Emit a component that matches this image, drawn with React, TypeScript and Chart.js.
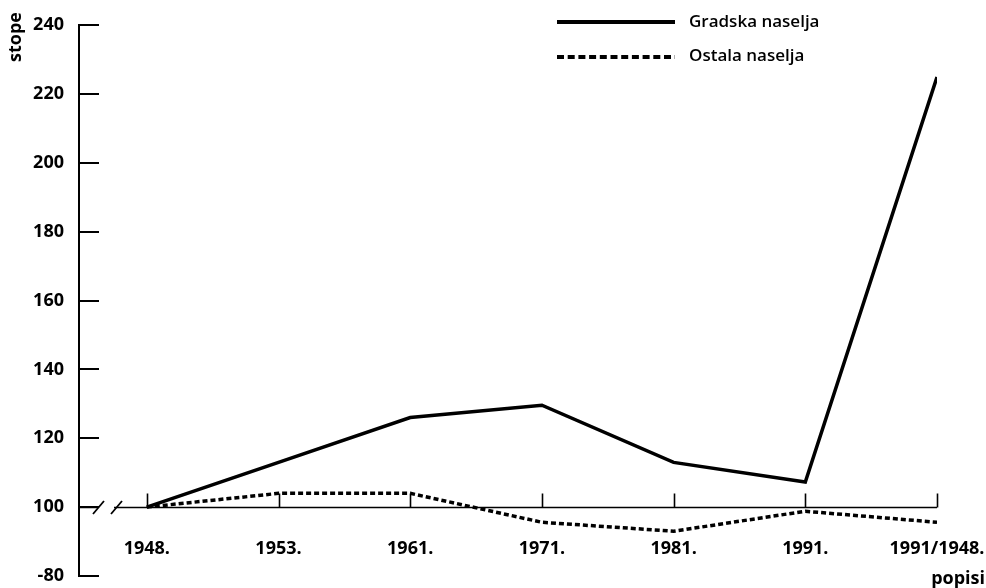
import React, { useEffect, useRef } from "react";
import { Chart, registerables } from "chart.js";

Chart.register(...registerables);

const categories = ["1948.", "1953.", "1961.", "1971.", "1981.", "1991.", "1991/1948."];
const gradskaNaselja = [100, 113, 126, 129.6, 113, 107.3, 224.9];
const ostalaNaselja = [100, 104, 104, 95.6, 93, 98.8, 95.6];
const yTicks = [80, 100, 120, 140, 160, 180, 200, 220, 240];
const yTickLabels = ["-80", "100", "120", "140", "160", "180", "200", "220", "240"];
const seriesNames = ["Gradska naselja", "Ostala naselja"];
const yTitle = "stope";
const xTitle = "popisi";

const FONT = "'Open Sans', 'DejaVu Sans', sans-serif";

const decorPlugin = {
  id: "decor",
  beforeDatasetsDraw(chart: any) {
    const ctx = chart.ctx;
    const { left } = chart.chartArea;
    const ys = chart.scales.y;
    const xs = chart.scales.x;
    ctx.save();
    ctx.strokeStyle = "#000";
    ctx.lineCap = "butt";
    // inward y ticks
    ctx.lineWidth = 2;
    yTicks.forEach((v) => {
      const py = Math.round(ys.getPixelForValue(v));
      ctx.beginPath();
      ctx.moveTo(left, py);
      ctx.lineTo(left + 20, py);
      ctx.stroke();
    });
    // x baseline at 100 with a break
    const by = Math.round(ys.getPixelForValue(100)) + 0.5;
    const lastX = xs.getPixelForValue(categories.length - 1);
    ctx.lineWidth = 1.6;
    ctx.beginPath();
    ctx.moveTo(left, by);
    ctx.lineTo(left + 19, by);
    ctx.moveTo(left + 35, by);
    ctx.lineTo(lastX, by);
    ctx.stroke();
    // break slashes
    ctx.lineWidth = 1.8;
    [14, 32].forEach((off) => {
      ctx.beginPath();
      ctx.moveTo(left + off, by + 6.5);
      ctx.lineTo(left + off + 11, by - 6.5);
      ctx.stroke();
    });
    // upward x ticks
    ctx.lineWidth = 1.6;
    categories.forEach((_, i) => {
      const px = Math.round(xs.getPixelForValue(i)) + 0.5;
      ctx.beginPath();
      ctx.moveTo(px, by);
      ctx.lineTo(px, by - 14);
      ctx.stroke();
    });
    ctx.restore();
  },
  afterDraw(chart: any) {
    const ctx = chart.ctx;
    ctx.save();
    ctx.fillStyle = "#000";
    ctx.strokeStyle = "#000";
    // y title
    ctx.font = `bold 18px ${FONT}`;
    ctx.save();
    ctx.translate(16, 37);
    ctx.rotate(-Math.PI / 2);
    ctx.textAlign = "center";
    ctx.textBaseline = "middle";
    ctx.fillText(yTitle, 0, 0);
    ctx.restore();
    // x title
    ctx.textAlign = "right";
    ctx.textBaseline = "alphabetic";
    ctx.fillText(xTitle, 985, 584);
    // legend
    ctx.lineWidth = 4;
    ctx.beginPath();
    ctx.moveTo(557, 22);
    ctx.lineTo(675, 22);
    ctx.stroke();
    ctx.setLineDash([7, 3.7]);
    ctx.beginPath();
    ctx.moveTo(557, 57);
    ctx.lineTo(675, 57);
    ctx.stroke();
    ctx.setLineDash([]);
    ctx.font = `600 17px ${FONT}`;
    ctx.textAlign = "left";
    ctx.textBaseline = "middle";
    ctx.fillText(seriesNames[0], 689, 22);
    ctx.fillText(seriesNames[1], 689, 56);
    ctx.restore();
  },
};

export default function App() {
  const ref = useRef<HTMLCanvasElement>(null);
  useEffect(() => {
    if (!ref.current) return;
    const chart = new Chart(ref.current, {
      type: "line",
      data: {
        datasets: [
          {
            label: seriesNames[0],
            data: categories.map((_, i) => ({ x: i, y: gradskaNaselja[i] })),
            borderColor: "#000",
            borderWidth: 3.5,
            pointRadius: 0,
            tension: 0,
            fill: false,
            borderJoinStyle: "miter",
          },
          {
            label: seriesNames[1],
            data: categories.map((_, i) => ({ x: i, y: ostalaNaselja[i] })),
            borderColor: "#000",
            borderWidth: 3.5,
            borderDash: [5, 3],
            pointRadius: 0,
            tension: 0,
            fill: false,
          },
        ],
      },
      options: {
        animation: false,
        responsive: false,
        devicePixelRatio: 1,
        layout: { padding: { left: 0, top: 25, right: 49, bottom: 12 } },
        plugins: { legend: { display: false }, tooltip: { enabled: false } },
        scales: {
          x: {
            type: "linear",
            position: { y: 100 } as any,
            min: -0.515,
            max: categories.length - 1,
            afterBuildTicks: (s: any) => {
              s.ticks = categories.map((_, i) => ({ value: i }));
            },
            afterFit: (s: any) => {
              s.paddingLeft = 0;
              s.paddingRight = 0;
              s.paddingTop = 0;
              s.paddingBottom = 0;
            },
            ticks: {
              callback: (v: any) => categories[v] ?? "",
              font: { family: FONT, weight: "bold", size: 18 },
              color: "#000",
              padding: 31,
              maxRotation: 0,
              autoSkip: false,
            },
            grid: { display: false, drawTicks: false },
            border: { display: false },
          },
          y: {
            type: "linear",
            min: 80,
            max: 240,
            afterBuildTicks: (s: any) => {
              s.ticks = yTicks.map((v) => ({ value: v }));
            },
            afterFit: (s: any) => {
              s.width = 79;
              s.paddingTop = 0;
              s.paddingBottom = 0;
            },
            ticks: {
              callback: (v: any) => yTickLabels[yTicks.indexOf(v)],
              font: { family: FONT, weight: "bold", size: 18 },
              color: "#000",
              padding: 15,
            },
            grid: { display: false, drawTicks: false },
            border: { display: true, color: "#000", width: 2 },
          },
        },
      },
      plugins: [decorPlugin],
    });
    return () => chart.destroy();
  }, []);
  return (
    <div style={{ position: "absolute", left: 0, top: 0, width: 986, height: 588, background: "#fff" }}>
      <canvas ref={ref} width={986} height={588} style={{ display: "block", width: 986, height: 588 }} />
    </div>
  );
}
